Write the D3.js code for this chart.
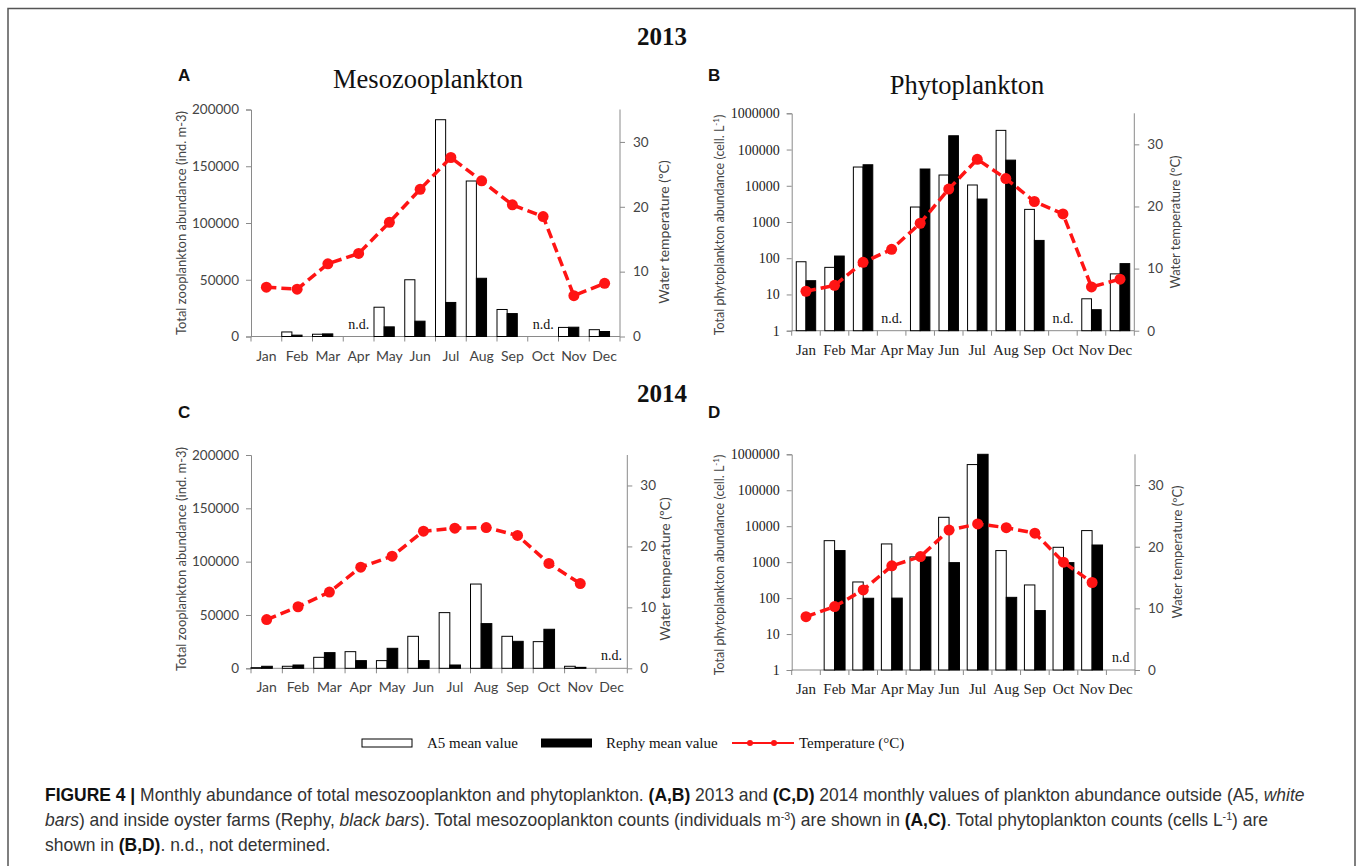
<!DOCTYPE html>
<html>
<head>
<meta charset="utf-8">
<script src="https://cdn.jsdelivr.net/npm/d3@7"></script>
<style>
  body { margin: 0; background: #fff; }
  svg { display: block; }
</style>
</head>
<body>
<svg id="fig" width="1358" height="866"></svg>
<script>
// month categories shared by the four panels
var months = ["Jan","Feb","Mar","Apr","May","Jun","Jul","Aug","Sep","Oct","Nov","Dec"];

// 2013 - mesozooplankton (ind. m-3), null = not determined / no bar
var mesoA5_2013    = [null, 4000, 2000, null, 25800, 50000, 191000, 137000, 23800, null, 8000, 6000];
var mesoRephy_2013 = [null, 1200, 2300, null, 8500, 13500, 30000, 51300, 20200, null, 8200, 4400];
var tempMeso_2013  = [7.6, 7.3, 11.2, 12.8, 17.6, 22.7, 27.6, 24.0, 20.3, 18.5, 6.3, 8.2];

// 2013 - phytoplankton (cell. L-1)
var phytoA5_2013    = [80, 56, 32900, null, 2590, 19800, 10500, 338000, 2230, null, 7.6, 37];
var phytoRephy_2013 = [24, 115, 38000, null, 29000, 240000, 4300, 51000, 310, null, 3.8, 71];
var tempPhyto_2013  = [6.35, 7.3, 11.0, 13.1, 17.3, 22.8, 27.6, 24.5, 20.8, 18.8, 7.05, 8.3];

// 2014 - mesozooplankton
var mesoA5_2014    = [600, 1900, 10300, 15600, 7200, 30000, 52200, 79000, 30000, 25000, 1900, null];
var mesoRephy_2014 = [1900, 3100, 14700, 7200, 18750, 7200, 3100, 41900, 25300, 36600, 900, null];
var tempMeso_2014  = [8.0, 10.1, 12.5, 16.6, 18.4, 22.5, 23.0, 23.1, 21.8, 17.2, 13.9, null];

// 2014 - phytoplankton
var phytoA5_2014    = [null, 3960, 281, 3210, 1400, 17700, 518000, 2100, 232, 2590, 7550, null];
var phytoRephy_2014 = [null, 2100, 99, 100, 1400, 970, 1000000, 105, 45, 970, 3000, null];
var tempPhyto_2014  = [8.66, 10.3, 13.0, 16.9, 18.4, 22.7, 23.7, 23.1, 22.2, 17.5, 14.2, null];

// axis ticks
var linTicks = [0, 50000, 100000, 150000, 200000];
var logTicks = [1, 10, 100, 1000, 10000, 100000, 1000000];
var tempTicks = [0, 10, 20, 30];

var SANS = "Lato, 'Liberation Sans', sans-serif";
var SERIF = "'Liberation Serif', 'DejaVu Serif', serif";
var RED = "#ff1414";

var svg = d3.select("#fig");
svg.append("rect").attr("width", 1358).attr("height", 866).attr("fill", "#fff");
// frame round the figure
svg.append("rect")
  .attr("x", 8).attr("y", 8.5).attr("width", 1347).attr("height", 880)
  .attr("fill", "none").attr("stroke", "#555").attr("stroke-width", 1.5);

// panel layouts
var panels = [
  { letter: "A", title: "Mesozooplankton", x0: 251, x1: 620, top: 109.5, bot: 336.5, log: false,
    white: mesoA5_2013, black: mesoRephy_2013, temp: tempMeso_2013, nd: ["Apr","Oct"], ndText: "n.d.",
    barFrac: 0.33, centred: false, tickFont: SANS, tickColor: "#444", monthFont: SANS, monthColor: "#444",
    yLabel: "Total zooplankton abundance (ind. m-3)", sup: null, lx: 181, ly: 223, rx: 664, ry: 232 },
  { letter: "B", title: "Phytoplankton", x0: 791.7, x1: 1134.3, top: 113.3, bot: 330.7, log: true,
    white: phytoA5_2013, black: phytoRephy_2013, temp: tempPhyto_2013, nd: ["Apr","Oct"], ndText: "n.d.",
    barFrac: 0.34, centred: true, tickFont: SERIF, tickColor: "#222", monthFont: SERIF, monthColor: "#222",
    yLabel: "Total phytoplankton abundance (cell. L", sup: "-1", lx: 720, ly: 225, rx: 1175, ry: 222 },
  { letter: "C", title: null, x0: 251, x1: 627.3, top: 455, bot: 668.3, log: false,
    white: mesoA5_2014, black: mesoRephy_2014, temp: tempMeso_2014, nd: ["Dec"], ndText: "n.d.",
    barFrac: 0.34, centred: false, tickFont: SANS, tickColor: "#444", monthFont: SANS, monthColor: "#444",
    yLabel: "Total zooplankton abundance (ind. m-3)", sup: null, lx: 181, ly: 559, rx: 665, ry: 569 },
  { letter: "D", title: null, x0: 791.7, x1: 1135, top: 454.3, bot: 670, log: true,
    white: phytoA5_2014, black: phytoRephy_2014, temp: tempPhyto_2014, nd: ["Dec"], ndText: "n.d",
    barFrac: 0.365, centred: true, tickFont: SERIF, tickColor: "#222", monthFont: SERIF, monthColor: "#222",
    yLabel: "Total phytoplankton abundance (cell. L", sup: "-1", lx: 720, ly: 565, rx: 1177, ry: 552 }
];

panels.forEach(function (p) { drawPanel(p); });

function drawPanel(p) {
  var g = svg.append("g");
  var x = d3.scaleBand().domain(months).range([p.x0, p.x1]).padding(0);
  var y = p.log
    ? d3.scaleLog().domain([1, 1000000]).range([p.bot, p.top])
    : d3.scaleLinear().domain([0, 200000]).range([p.bot, p.top]);
  var yT = d3.scaleLinear().domain([0, 35]).range([p.bot, p.top]);

  var bw = x.bandwidth() * p.barFrac;
  var off = p.centred ? (x.bandwidth() - 2 * bw) / 2 : 0;
  var sub = d3.scaleBand().domain(["white", "black"]).range([off, off + 2 * bw]);

  // left axis
  var left = g.append("g").attr("transform", "translate(" + p.x0 + ",0)")
    .call(d3.axisLeft(y).tickValues(p.log ? logTicks : linTicks).tickSize(5).tickPadding(7)
      .tickFormat(function (d) { return String(d); }));
  left.select(".domain").attr("stroke", "#8a8a8a");
  left.selectAll(".tick line").attr("stroke", "#8a8a8a");
  left.selectAll("text").attr("font-family", p.tickFont).attr("font-size", p.log ? 14 : 13.5)
    .attr("fill", p.tickColor);

  // right axis (temperature)
  var right = g.append("g").attr("transform", "translate(" + p.x1 + ",0)")
    .call(d3.axisRight(yT).tickValues(tempTicks).tickSize(5).tickPadding(8));
  right.select(".domain").attr("stroke", "#8a8a8a").attr("d", "M0," + p.bot + "V" + p.top);
  right.selectAll(".tick line").attr("stroke", "#8a8a8a");
  right.selectAll("text").attr("font-family", SANS).attr("font-size", 13.5).attr("fill", "#444");

  // bottom axis, ticks between months
  var bottom = g.append("g").attr("transform", "translate(0," + p.bot + ")");
  bottom.append("line").attr("x1", p.x0).attr("x2", p.x1).attr("stroke", "#8a8a8a");
  bottom.selectAll(".sep").data(d3.range(months.length + 1)).enter().append("line")
    .attr("x1", function (i) { return p.x0 + i * x.step(); })
    .attr("x2", function (i) { return p.x0 + i * x.step(); })
    .attr("y1", 0).attr("y2", 5).attr("stroke", "#8a8a8a");
  bottom.selectAll(".mon").data(months).enter().append("text")
    .attr("x", function (m) { return x(m) + x.bandwidth() / 2; })
    .attr("y", 24)
    .attr("text-anchor", "middle")
    .attr("font-family", p.monthFont).attr("font-size", p.log ? 15 : 14)
    .attr("fill", p.monthColor)
    .text(function (m) { return m; });

  var base = p.log ? y(1) : y(0);
  function bars(values, key) {
    g.selectAll(".bar-" + key).data(values.map(function (v, i) { return { m: months[i], v: v }; })
      .filter(function (d) { return d.v != null; }))
      .enter().append("rect")
      .attr("x", function (d) { return x(d.m) + sub(key); })
      .attr("width", sub.bandwidth())
      .attr("y", function (d) { return y(d.v); })
      .attr("height", function (d) { return base - y(d.v); })
      .attr("fill", key === "white" ? "#fff" : "#000")
      .attr("stroke", "#000").attr("stroke-width", 1);
  }
  bars(p.white, "white");
  bars(p.black, "black");

  // n.d. marks
  g.selectAll(".nd").data(p.nd).enter().append("text")
    .attr("x", function (m) { return x(m) + x.bandwidth() / 2; })
    .attr("y", p.bot - 8)
    .attr("text-anchor", "middle")
    .attr("font-family", SERIF).attr("font-size", 14).attr("fill", "#111")
    .text(p.ndText);

  // temperature line
  var pts = p.temp.map(function (v, i) { return { m: months[i], v: v }; });
  var line = d3.line()
    .defined(function (d) { return d.v != null; })
    .x(function (d) { return x(d.m) + x.bandwidth() / 2; })
    .y(function (d) { return yT(d.v); });
  g.append("path").datum(pts).attr("d", line)
    .attr("fill", "none").attr("stroke", RED).attr("stroke-width", 3.5)
    .attr("stroke-dasharray", "10,5");
  g.selectAll(".dot").data(pts.filter(function (d) { return d.v != null; })).enter().append("circle")
    .attr("cx", function (d) { return x(d.m) + x.bandwidth() / 2; })
    .attr("cy", function (d) { return yT(d.v); })
    .attr("r", 5.5).attr("fill", RED);

  // axis titles
  var lt = g.append("text")
    .attr("transform", "translate(" + p.lx + "," + p.ly + ") rotate(-90)")
    .attr("text-anchor", "middle").attr("dy", "0.35em")
    .attr("font-family", SANS).attr("font-size", p.log ? 12.5 : 13).attr("fill", "#444")
    .text(p.yLabel);
  if (p.sup) {
    lt.append("tspan").attr("font-size", 8).attr("baseline-shift", "super").text(p.sup);
    lt.append("tspan").text(")");
  }
  g.append("text")
    .attr("transform", "translate(" + p.rx + "," + p.ry + ") rotate(-90)")
    .attr("text-anchor", "middle").attr("dy", "0.35em")
    .attr("font-family", SANS).attr("font-size", p.log ? 13 : 14).attr("fill", "#444")
    .text("Water temperature (\u00baC)");

  // panel letter and title
  g.append("text").attr("x", p.letter === "A" || p.letter === "C" ? 178 : 708)
    .attr("y", p.letter === "A" || p.letter === "B" ? 81 : 418)
    .attr("font-family", "'Liberation Sans', Arial, sans-serif").attr("font-weight", "bold")
    .attr("font-size", 17).attr("fill", "#111").text(p.letter);
  if (p.title) {
    g.append("text").attr("x", p.log ? 967 : 428)
      .attr("y", p.log ? 94 : 88)
      .attr("text-anchor", "middle").attr("font-family", SERIF).attr("font-size", 26.5)
      .attr("fill", "#111").text(p.title);
  }
}

// year headings
[["2013", 45], ["2014", 402]].forEach(function (h) {
  svg.append("text").attr("x", 662).attr("y", h[1]).attr("text-anchor", "middle")
    .attr("font-family", SERIF).attr("font-weight", "bold").attr("font-size", 25)
    .attr("fill", "#111").text(h[0]);
});

// legend
var lg = svg.append("g").attr("font-family", SERIF).attr("font-size", 15).attr("fill", "#111");
lg.append("rect").attr("x", 362).attr("y", 739).attr("width", 50).attr("height", 8)
  .attr("fill", "#fff").attr("stroke", "#000");
lg.append("text").attr("x", 427).attr("y", 748).text("A5 mean value");
lg.append("rect").attr("x", 541).attr("y", 738.5).attr("width", 51).attr("height", 9)
  .attr("fill", "#000");
lg.append("text").attr("x", 606).attr("y", 748).text("Rephy mean value");
lg.append("line").attr("x1", 732).attr("x2", 794).attr("y1", 743).attr("y2", 743)
  .attr("stroke", RED).attr("stroke-width", 2);
[750, 774].forEach(function (cx) {
  lg.append("circle").attr("cx", cx).attr("cy", 743).attr("r", 3).attr("fill", RED);
});
lg.append("text").attr("x", 799).attr("y", 748).text("Temperature (\u00b0C)");

// caption - narrow face imitated by squeezing the lines to the reference width
var cap = svg.append("g").attr("font-family", "'Liberation Sans', Arial, sans-serif")
  .attr("font-size", 18).attr("fill", "#333");
function bold(t, s) { t.append("tspan").attr("font-weight", "bold").attr("fill", "#111").text(s); }
function ital(t, s) { t.append("tspan").attr("font-style", "italic").text(s); }
function plain(t, s) { t.append("tspan").text(s); }
function sup(t, s) {
  t.append("tspan").attr("font-size", 11).attr("baseline-shift", "super").text(s);
}

var l1 = cap.append("text").attr("y", 801);
bold(l1, "FIGURE 4 | ");
plain(l1, "Monthly abundance of total mesozooplankton and phytoplankton. ");
bold(l1, "(A,B)");
plain(l1, " 2013 and ");
bold(l1, "(C,D)");
plain(l1, " 2014 monthly values of plankton abundance outside (A5, ");
ital(l1, "white");

var l2 = cap.append("text").attr("y", 826);
ital(l2, "bars");
plain(l2, ") and inside oyster farms (Rephy, ");
ital(l2, "black bars");
plain(l2, "). Total mesozooplankton counts (individuals m");
sup(l2, "-3");
plain(l2, ") are shown in ");
bold(l2, "(A,C)");
plain(l2, ". Total phytoplankton counts (cells L");
sup(l2, "-1");
plain(l2, ") are");

var l3 = cap.append("text").attr("y", 851);
plain(l3, "shown in ");
bold(l3, "(B,D)");
plain(l3, ". n.d., not determined.");

var squeeze = 1261 / l1.node().getComputedTextLength();
[l1, l2, l3].forEach(function (t) {
  t.attr("transform", "translate(45,0) scale(" + squeeze + ",1)");
});
</script>
</body>
</html>
